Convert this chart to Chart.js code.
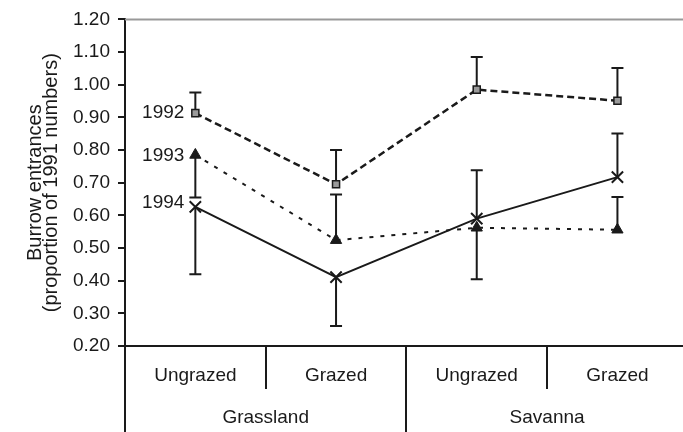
<!DOCTYPE html>
<html lang="en">
<head>
<meta charset="UTF-8" />
<title>Burrow entrances</title>
<script src="https://cdn.jsdelivr.net/npm/chart.js@4.4.1/dist/chart.umd.min.js"></script>
<style>
  html, body { margin: 0; padding: 0; background: #fff; }
  #wrap { width: 683px; height: 432px; }
</style>
</head>
<body>
<div id="wrap"><canvas id="chart" width="683" height="432"></canvas></div>
<script>
// categories
const habitats = ['Ungrazed', 'Grazed', 'Ungrazed', 'Grazed'];
const groups = ['Grassland', 'Savanna'];
const years = ['1992', '1993', '1994'];

// means (proportion of 1991 numbers)
const y1992 = [0.913, 0.695, 0.985, 0.951];
const y1993 = [0.785, 0.524, 0.562, 0.556];
const y1994 = [0.626, 0.411, 0.590, 0.717];

// end of each error bar (the figure only shows one side of every bar)
const err1992 = [0.976, 0.800, 1.085, 1.051];
const err1993 = [0.655, 0.664, 0.404, 0.656];
const err1994 = [0.420, 0.261, 0.738, 0.851];

const yTicks = [0.2, 0.3, 0.4, 0.5, 0.6, 0.7, 0.8, 0.9, 1.0, 1.1, 1.2];

const ink = '#1a1a1a';
Chart.defaults.font.family = "'Liberation Sans', Arial, sans-serif";
Chart.defaults.color = ink;

function pts(arr) {
	return arr.map((v, i) => ({ x: i, y: v }));
}

const series = [
	{ label: years[0], data: pts(y1992), err: err1992 },
	{ label: years[1], data: pts(y1993), err: err1993 },
	{ label: years[2], data: pts(y1994), err: err1994 },
];

//error bars, dividers under the axis, group names and year labels
const extras = {
	id: 'extras',
	beforeDatasetsDraw(chart) {
		const { ctx, scales: { x, y } } = chart;
		ctx.save();
		ctx.strokeStyle = ink;
		ctx.lineWidth = 2;
		series.forEach((s) => {
			s.data.forEach((p, i) => {
				const px = x.getPixelForValue(p.x);
				const y0 = y.getPixelForValue(p.y);
				const y1 = y.getPixelForValue(s.err[i]);
				ctx.beginPath();
				ctx.moveTo(px, y0);
				ctx.lineTo(px, y1);
				ctx.moveTo(px - 6, y1);
				ctx.lineTo(px + 6, y1);
				ctx.stroke();
			});
		});
		ctx.restore();
	},
	afterDraw(chart) {
		const { ctx, chartArea, scales: { x, y } } = chart;
		const H = chart.height;
		ctx.save();
		// grey frame line on top
		ctx.strokeStyle = '#999';
		ctx.lineWidth = 2;
		ctx.beginPath();
		ctx.moveTo(chartArea.left, chartArea.top);
		ctx.lineTo(chart.width, chartArea.top);
		ctx.stroke();

		ctx.strokeStyle = ink;
		ctx.lineWidth = 2;
		ctx.beginPath();
		// y axis runs on down through the category table
		ctx.moveTo(chartArea.left, chartArea.bottom);
		ctx.lineTo(chartArea.left, H);
		// short dividers between ungrazed / grazed
		[0.5, 2.5].forEach((v) => {
			const px = Math.round(x.getPixelForValue(v));
			ctx.moveTo(px, chartArea.bottom);
			ctx.lineTo(px, chartArea.bottom + 43);
		});
		// long divider between grassland / savanna
		const mid = Math.round(x.getPixelForValue(1.5));
		ctx.moveTo(mid, chartArea.bottom);
		ctx.lineTo(mid, H);
		ctx.stroke();

		ctx.fillStyle = ink;
		ctx.font = "19px 'Liberation Sans', Arial, sans-serif";
		ctx.textAlign = 'center';
		ctx.textBaseline = 'middle';
		groups.forEach((g, i) => {
			ctx.fillText(g, x.getPixelForValue(i * 2 + 0.5), chartArea.bottom + 72);
		});

		ctx.textAlign = 'right';
		const nudge = [0, 1, -4];
		series.forEach((s, k) => {
			const p = s.data[0];
			ctx.fillText(s.label, x.getPixelForValue(p.x) - 11, y.getPixelForValue(p.y) + nudge[k]);
		});
		ctx.restore();
	},
};

const ctx = document.getElementById('chart').getContext('2d');
new Chart(ctx, {
	type: 'line',
	data: {
		datasets: [
			{
				label: years[0],
				data: series[0].data,
				borderColor: ink,
				borderWidth: 2.5,
				borderDash: [7, 4],
				pointStyle: 'rect',
				pointRadius: 5,
				pointBackgroundColor: '#9a9a9a',
				pointBorderColor: ink,
				pointBorderWidth: 1.5,
			},
			{
				label: years[1],
				data: series[1].data,
				borderColor: ink,
				borderWidth: 2,
				borderDash: [4, 7],
				pointStyle: 'triangle',
				pointRadius: 6.5,
				pointBackgroundColor: ink,
				pointBorderColor: ink,
				pointBorderWidth: 1,
			},
			{
				label: years[2],
				data: series[2].data,
				borderColor: ink,
				borderWidth: 2,
				pointStyle: 'crossRot',
				pointRadius: 8,
				pointBorderColor: ink,
				pointBorderWidth: 2,
			},
		],
	},
	options: {
		responsive: false,
		animation: false,
		layout: { autoPadding: false, padding: { top: 17, left: 0, right: 0, bottom: 0 } },
		plugins: {
			legend: { display: false },
			tooltip: { enabled: false },
		},
		elements: { line: { tension: 0, fill: false } },
		scales: {
			x: {
				type: 'linear',
				min: -0.5,
				max: 3.466,
				afterBuildTicks: (s) => {
					s.ticks = habitats.map((h, i) => ({ value: i }));
				},
				afterFit: (s) => {
					s.height = 86;
					s.paddingLeft = 0;
					s.paddingRight = 0;
				},
				grid: { display: false, drawTicks: false },
				border: { display: true, color: ink, width: 2 },
				ticks: {
					autoSkip: false,
					maxRotation: 0,
					padding: 18,
					font: { size: 19 },
					callback: (v) => habitats[v],
				},
			},
			y: {
				min: 0.2,
				max: 1.2,
				afterBuildTicks: (s) => {
					s.ticks = yTicks.map((v) => ({ value: v }));
				},
				afterFit: (s) => {
					s.width = 125;
				},
				grid: {
					drawOnChartArea: false,
					drawTicks: true,
					tickLength: 7,
					color: ink,
					lineWidth: 2,
				},
				border: { display: true, color: ink, width: 2 },
				ticks: {
					padding: 8,
					font: { size: 19 },
					callback: (v) => v.toFixed(2),
				},
				title: {
					display: true,
					text: ['Burrow entrances', '(proportion of 1991 numbers)'],
					font: { size: 20, lineHeight: '16px' },
					padding: { top: 27, bottom: 0 },
				},
			},
		},
	},
	plugins: [extras],
});
</script>
</body>
</html>
